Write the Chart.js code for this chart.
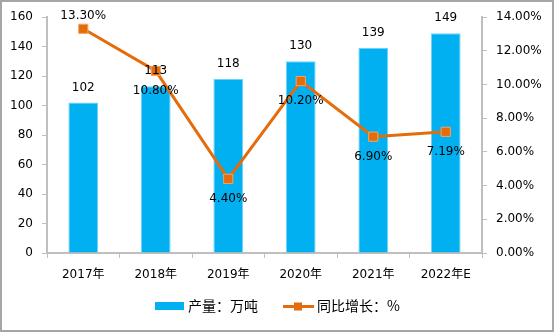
<!DOCTYPE html>
<html>
<head>
<meta charset="utf-8">
<script src="https://cdn.jsdelivr.net/npm/chart.js@4/dist/chart.umd.min.js"></script>
<style>
  html, body { margin: 0; padding: 0; background: #fff; }
  #wrap { width: 554px; height: 332px; position: relative; }
</style>
</head>
<body>
<div id="wrap"><canvas id="c" width="554" height="332"></canvas></div>
<script>
// Annual output (10k tonnes) and year-on-year growth (%)
const years = ['2017年', '2018年', '2019年', '2020年', '2021年', '2022年E'];
const output = [102, 113, 118, 130, 139, 149];
const growth = [13.30, 10.80, 4.40, 10.20, 6.90, 7.19];
const growthLabels = ['13.30%', '10.80%', '4.40%', '10.20%', '6.90%', '7.19%'];
const outputName = '产量：万吨';
const growthName = '同比增长：%';

const BAR = '#00B0F0';
const LINE = '#E46C0A';
const AXIS = '#bfbfbf';
const NUM_FONT = '"DejaVu Sans", "Noto Sans CJK SC", sans-serif';

// Value labels, legend and frame drawn on the canvas
const decorations = {
  id: 'decorations',
  beforeDraw(chart) {
    const ctx = chart.ctx;
    ctx.save();
    ctx.fillStyle = '#fff';
    ctx.fillRect(0, 0, chart.width, chart.height);
    ctx.restore();
  },
  afterDatasetsDraw(chart) {
    const ctx = chart.ctx;
    ctx.save();
    ctx.fillStyle = '#000';
    ctx.font = '12px ' + NUM_FONT;
    ctx.textAlign = 'center';
    ctx.textBaseline = 'middle';
    const bars = chart.getDatasetMeta(0).data;
    bars.forEach((b, i) => {
      ctx.fillText(String(output[i]), b.x, b.y - 15);
    });
    const pts = chart.getDatasetMeta(1).data;
    pts.forEach((p, i) => {
      const dy = i === 0 ? -13 : 20;
      ctx.fillText(growthLabels[i], p.x, p.y + dy);
    });

    // legend
    const ly = 306;
    ctx.fillStyle = BAR;
    ctx.fillRect(155, ly - 4, 29, 8);
    ctx.fillStyle = '#000';
    ctx.font = '14px "Noto Sans CJK SC", "DejaVu Sans", sans-serif';
    ctx.textAlign = 'left';
    ctx.fillText(outputName, 188, ly);

    ctx.strokeStyle = LINE;
    ctx.lineWidth = 3;
    ctx.beginPath();
    ctx.moveTo(283, ly + 0.5);
    ctx.lineTo(314, ly + 0.5);
    ctx.stroke();
    ctx.fillStyle = LINE;
    ctx.fillRect(294, ly - 3.5, 8, 8);
    ctx.fillStyle = '#000';
    ctx.fillText(growthName, 317, ly);

    // outer frame
    ctx.strokeStyle = '#a6a6a6';
    ctx.lineWidth = 2;
    ctx.strokeRect(1, 1, chart.width - 2, chart.height - 2);
    ctx.restore();
  }
};

new Chart(document.getElementById('c'), {
  type: 'bar',
  data: {
    labels: years,
    datasets: [
      {
        type: 'bar',
        label: outputName,
        data: output,
        backgroundColor: BAR,
        borderColor: '#6fd3f7',
        borderWidth: 1,
        barPercentage: 0.41,
        categoryPercentage: 1,
        yAxisID: 'y',
        order: 1
      },
      {
        type: 'line',
        label: growthName,
        data: growth,
        borderColor: LINE,
        borderWidth: 3,
        pointStyle: 'rect',
        pointRadius: 6.5,
        pointBackgroundColor: LINE,
        pointBorderColor: '#f2a56a',
        pointBorderWidth: 1,
        tension: 0,
        yAxisID: 'y1',
        order: 0
      }
    ]
  },
  options: {
    responsive: false,
    animation: false,
    devicePixelRatio: 1,
    layout: { padding: { top: 17, bottom: 0, left: 0, right: 0 } },
    plugins: {
      legend: { display: false },
      tooltip: { enabled: false }
    },
    scales: {
      x: {
        offset: true,
        grid: {
          offset: true,
          drawOnChartArea: false,
          drawTicks: true,
          tickLength: 5,
          color: AXIS
        },
        border: { color: AXIS, width: 2 },
        ticks: {
          color: '#000',
          font: { size: 12, family: NUM_FONT },
          padding: 10,
          maxRotation: 0
        },
        afterFit(s) { s.height = 79; }
      },
      y: {
        position: 'left',
        min: 0,
        max: 160,
        ticks: {
          stepSize: 20,
          color: '#000',
          font: { size: 12, family: NUM_FONT },
          padding: 9
        },
        grid: { drawOnChartArea: false, tickLength: 5, color: AXIS },
        border: { color: AXIS, width: 2 },
        afterFit(s) { s.width = 47; }
      },
      y1: {
        position: 'right',
        min: 0,
        max: 14,
        ticks: {
          stepSize: 2,
          color: '#000',
          font: { size: 12, family: NUM_FONT },
          padding: 9,
          callback: v => v.toFixed(2) + '%'
        },
        grid: { drawOnChartArea: false, tickLength: 5, color: AXIS },
        border: { color: AXIS, width: 2 },
        afterFit(s) { s.width = 72; }
      }
    }
  },
  plugins: [decorations]
});
</script>
</body>
</html>
